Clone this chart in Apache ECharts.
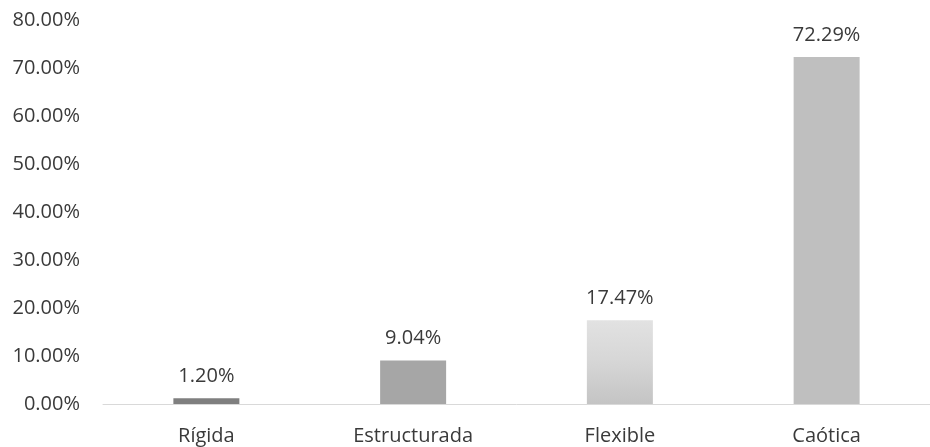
<!DOCTYPE html>
<html><head><meta charset="utf-8">
<script src="https://cdn.jsdelivr.net/npm/echarts@6/dist/echarts.min.js"></script>
<style>html,body{margin:0;padding:0;background:#fff}#c{width:930px;height:447px}</style>
</head><body><div id="c"></div>
<script>
const categories = ['Rígida', 'Estructurada', 'Flexible', 'Caótica'];
const values = [1.20, 9.04, 17.47, 72.29];
const barColors = ['#7f7f7f', '#a6a6a6', null, '#bfbfbf'];
const yTicks = [0, 10, 20, 30, 40, 50, 60, 70, 80];

const FONT = 'Open Sans';
const FS = 20;
const chart = echarts.init(document.getElementById('c'));
const data = values.map((v, i) => ({
  value: v,
  itemStyle: {
    color: barColors[i] || new echarts.graphic.LinearGradient(0, 0, 0, 1, [
      {offset: 0, color: '#e2e2e2'}, {offset: 0.5, color: '#d6d6d6'}, {offset: 1, color: '#c4c4c4'}
    ])
  }
}));
chart.setOption({
  animation: false,
  grid: {left: 103, width: 838, top: 20, height: 384},
  xAxis: {
    type: 'category', data: categories,
    axisLine: {lineStyle: {color: '#d9d9d9', width: 1}},
    axisTick: {show: false},
    axisLabel: {color: '#3a3a3a', fontFamily: FONT, fontSize: FS, margin: 22}
  },
  yAxis: {
    type: 'value', min: yTicks[0], max: yTicks[yTicks.length - 1], interval: 10,
    splitLine: {show: false}, axisLine: {show: false}, axisTick: {show: false},
    axisLabel: {color: '#3a3a3a', fontFamily: FONT, fontSize: FS, margin: 23,
      formatter: v => v.toFixed(2) + '%'}
  },
  series: [{
    type: 'bar', data: data, barWidth: 66,
    label: {show: true, position: 'top', distance: 12, color: '#3a3a3a',
      fontFamily: FONT, fontSize: FS, formatter: p => p.value.toFixed(2) + '%'}
  }]
});
</script></body></html>
